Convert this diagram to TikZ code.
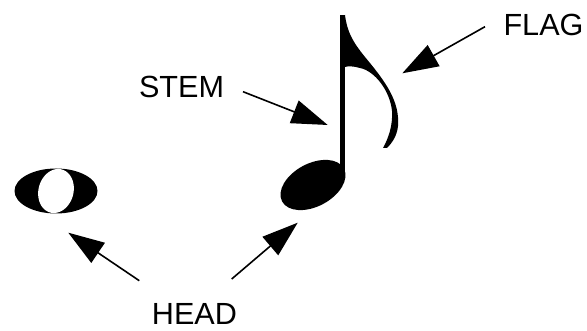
\documentclass[tikz,border=0pt]{standalone}
\usepackage{fontspec}
\setmainfont{Liberation Sans}
\usepackage{tikz}
\usetikzlibrary{arrows.meta}
\tikzset{
    labelarrow/.style={
        line width=1.6pt,
        black,
        -{Triangle[length=36pt, width=24pt]}
    },
    % text of the labels
    tagtext/.style={
        inner sep=0pt,
        anchor=base,
        font=\fontsize{30.6}{36}\selectfont
    }
}

\begin{document}
\begin{tikzpicture}[x=1pt, y=1pt]
        \useasboundingbox (0,0) rectangle (587,331);

        \path
        (56,140) coordinate (wnote)
        (313,146) coordinate (qhead)
        (243,239.3) coordinate (stemtail)
        (327.7,206) coordinate (stemtip)
        (485,304.3) coordinate (flagtail)
        (402.3,257.7) coordinate (flagtip)
        (139.3,50.3) coordinate (wtail)
        (68.3,98.3) coordinate (wtip)
        (231.7,52) coordinate (qtail)
        (297.7,108.3) coordinate (qtip)
        ;

        % whole note
        \fill[black] (wnote) ellipse (41.5 and 22.5);
        \fill[white] plot[domain=0:360, samples=72, smooth cycle]
            ({56+17.5*cos(\x)*cos(15)+22.3*sin(\x)*sin(15)},
             {140-17.5*cos(\x)*sin(15)+22.3*sin(\x)*cos(15)});

        % quarter note with flag
        \fill[black, rotate around={28:(qhead)}] (qhead) ellipse (35 and 21.5);
        \fill[black] (340,156) rectangle (345,316);
        \fill[black] (345,316) .. controls (347,300) and (352,290) .. (365,274)
            .. controls (385,250) and (400,230) .. (398,205)
            .. controls (397,195) and (392,188) .. (387,183)
            -- (383,183)
            .. controls (388,192) and (393,205) .. (392,220)
            .. controls (390,240) and (375,260) .. (360,263)
            .. controls (353,265) and (348,265) .. (345,264) -- cycle;

        \node[tagtext] (stemlbl) at (181.5,233) {STEM};
        \node[tagtext] (flaglbl) at (543.5,295) {FLAG};
        \node[tagtext] (headlbl) at (194.5,6) {HEAD};

        \draw[labelarrow] (stemtail) -- (stemtip);
        \draw[labelarrow] (flagtail) -- (flagtip);
        \draw[labelarrow] (wtail) -- (wtip);
        \draw[labelarrow] (qtail) -- (qtip);

\end{tikzpicture}
\end{document}
